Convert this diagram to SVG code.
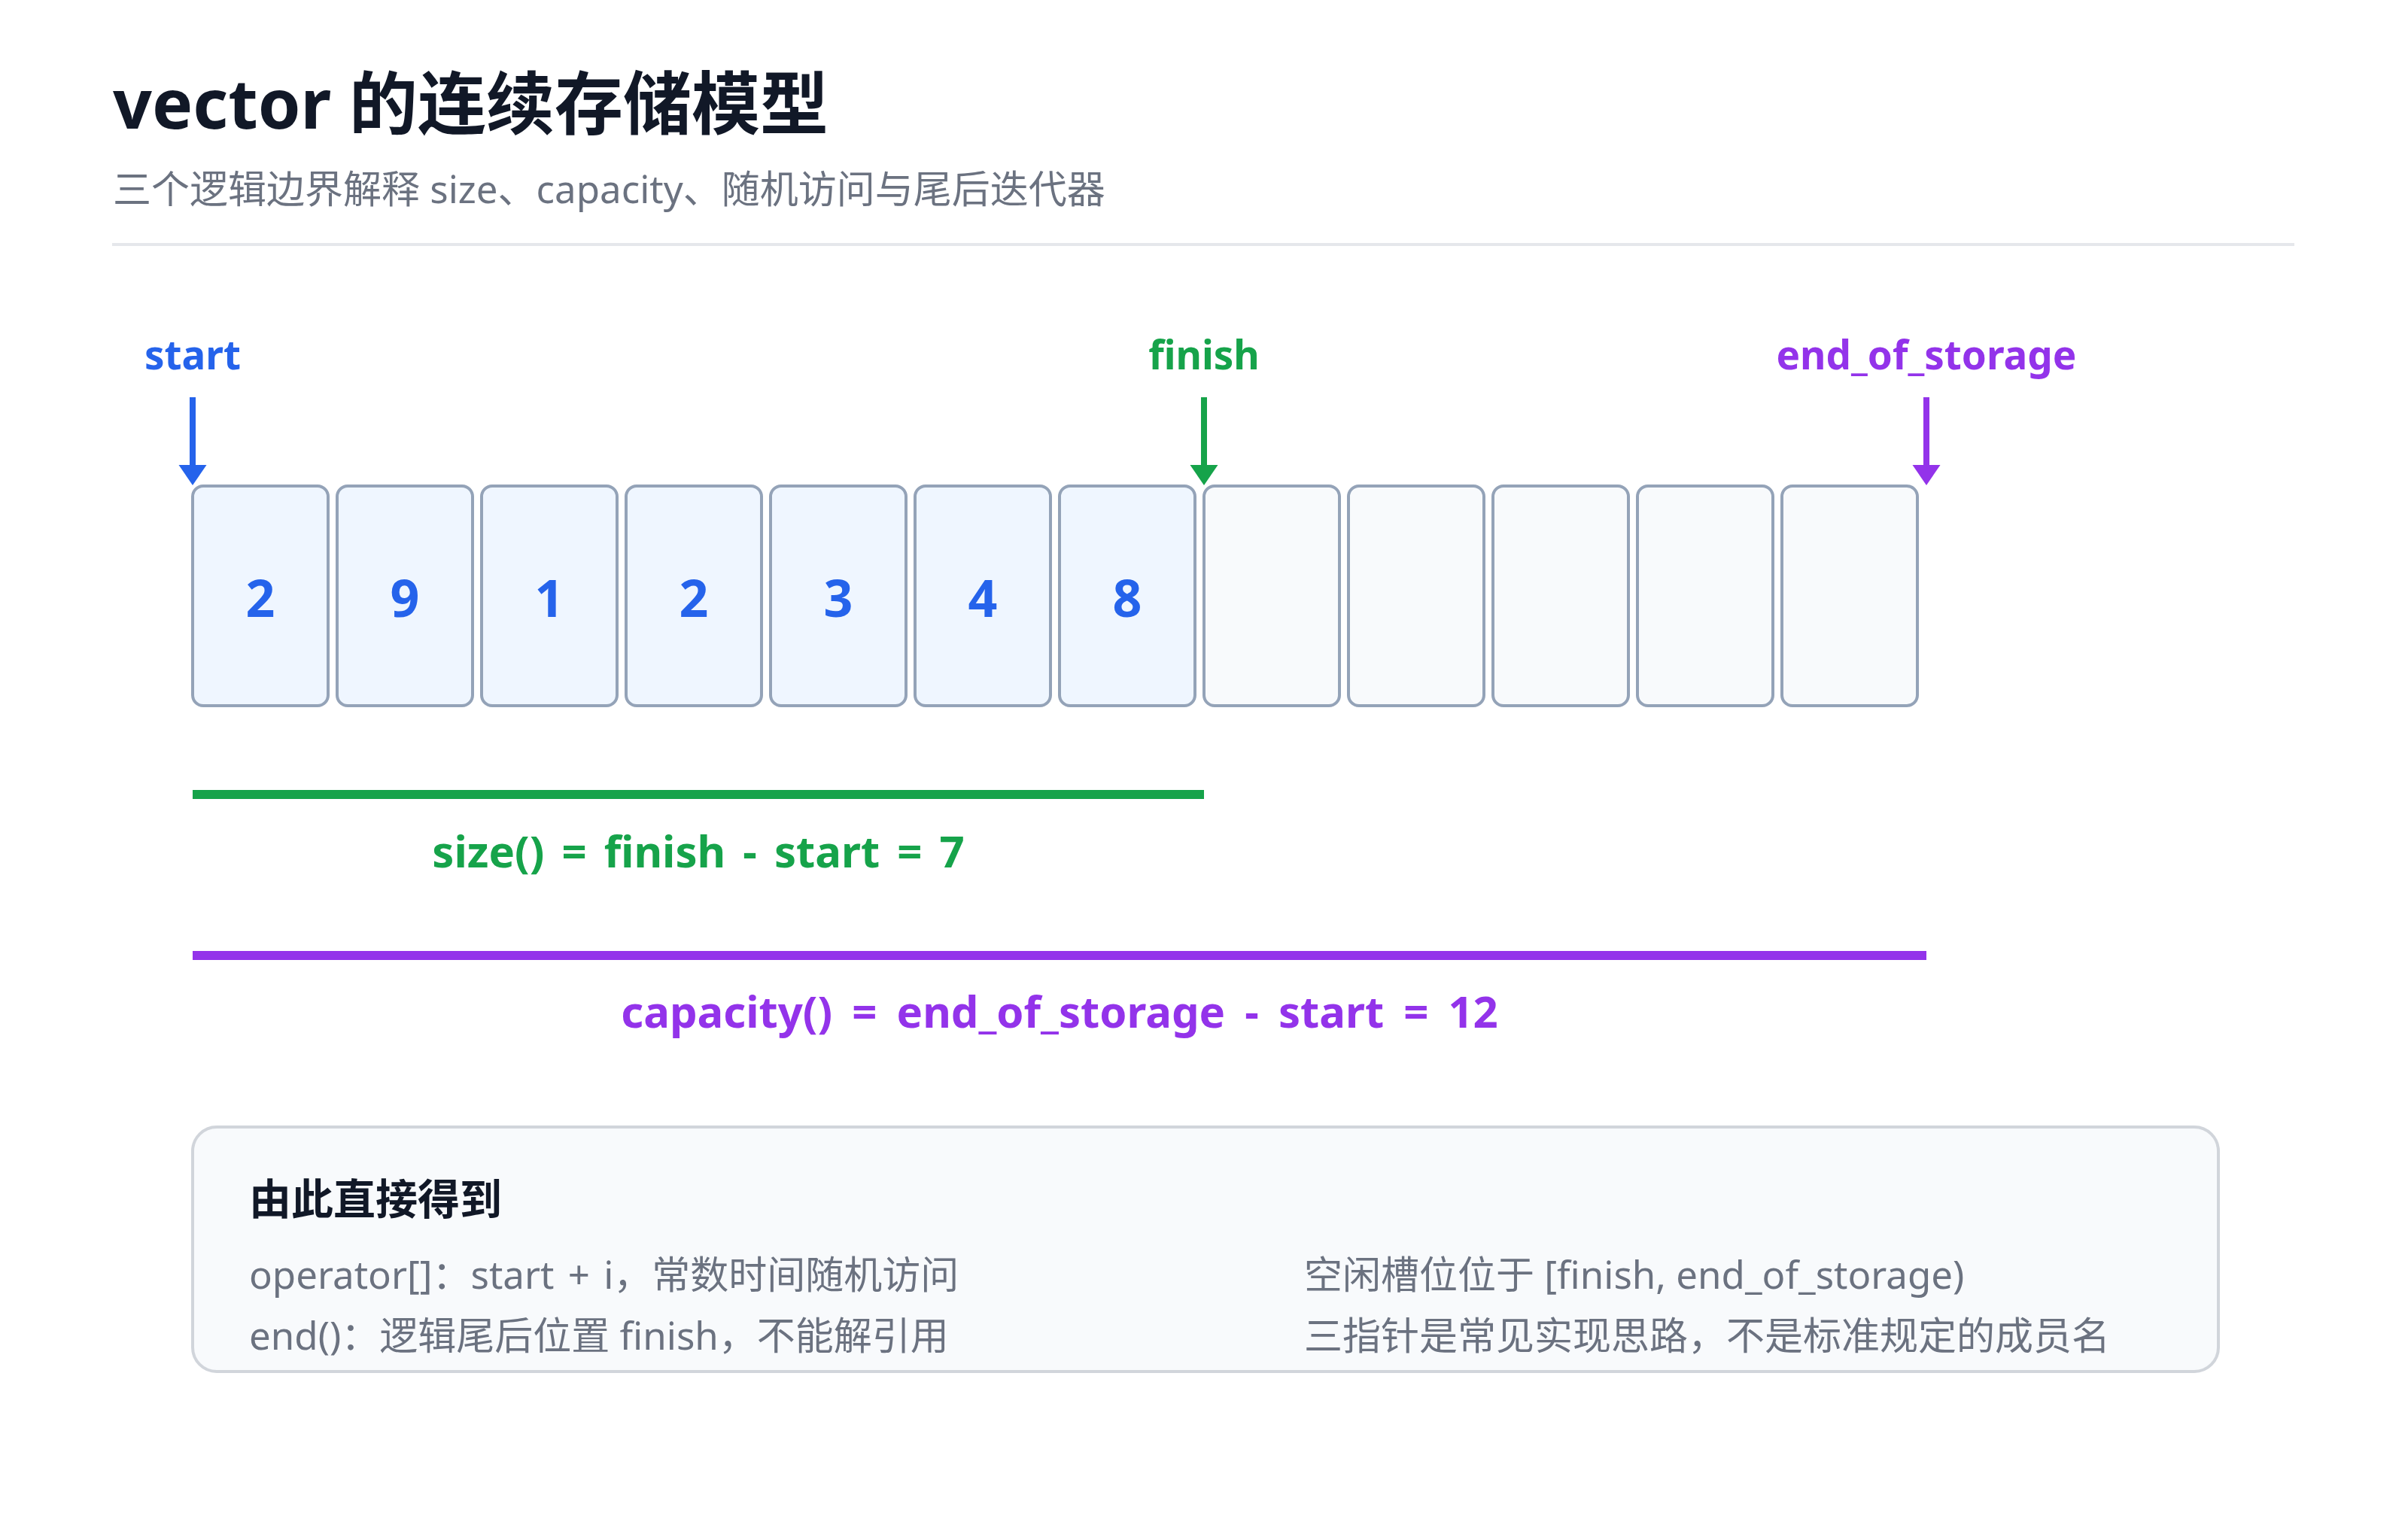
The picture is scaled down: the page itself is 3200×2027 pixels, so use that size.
<svg xmlns="http://www.w3.org/2000/svg" width="3200" height="2027" viewBox="0 0 3200 2027">
  <style>
    text { font-family: "Noto Sans", "Noto Sans CJK SC", sans-serif; }
    .title { font-size: 91px; font-weight: 700; fill: #111827; }
    .subtitle { font-size: 51px; fill: #6b7280; }
    .label { font-size: 53px; font-weight: 700; text-anchor: middle; }
    .cell-filled { fill: #eff6ff; stroke: #94a3b8; stroke-width: 4; }
    .cell-empty { fill: #f8fafc; stroke: #94a3b8; stroke-width: 4; }
    .digit { font-size: 68px; font-weight: 700; fill: #2563eb; text-anchor: middle; }
    .formula { font-size: 58px; font-weight: 700; text-anchor: middle; word-spacing: 8px; }
    .box { fill: #f8fafc; stroke: #d1d5db; stroke-width: 4; }
    .heading { font-size: 56px; font-weight: 700; fill: #111827; }
    .body { font-size: 51px; fill: #6b7280; }
    .blue { fill: #2563eb; }
    .green { fill: #16a34a; }
    .purple { fill: #9333ea; }
  </style>
  <rect width="3200" height="2027" fill="#ffffff"/>

  <g id="header">
    <text class="title" x="150" y="171">vector 的连续存储模型</text>
    <text class="subtitle" x="150" y="270">三个逻辑边界解释 size、capacity、随机访问与尾后迭代器</text>
    <line x1="149" y1="325" x2="3049" y2="325" stroke="#e5e7eb" stroke-width="4"/>
  </g>

  <g id="pointer-labels">
    <text class="label blue" x="256" y="491">start</text>
    <text class="label green" x="1600" y="491">finish</text>
    <text class="label purple" x="2560" y="491">end_of_storage</text>
  </g>

  <g id="cells">
    <g id="cell-0"><rect class="cell-filled" x="256" y="646" width="180" height="292" rx="14"/><text class="digit" x="346" y="820">2</text></g>
    <g id="cell-1"><rect class="cell-filled" x="448" y="646" width="180" height="292" rx="14"/><text class="digit" x="538" y="820">9</text></g>
    <g id="cell-2"><rect class="cell-filled" x="640" y="646" width="180" height="292" rx="14"/><text class="digit" x="730" y="820">1</text></g>
    <g id="cell-3"><rect class="cell-filled" x="832" y="646" width="180" height="292" rx="14"/><text class="digit" x="922" y="820">2</text></g>
    <g id="cell-4"><rect class="cell-filled" x="1024" y="646" width="180" height="292" rx="14"/><text class="digit" x="1114" y="820">3</text></g>
    <g id="cell-5"><rect class="cell-filled" x="1216" y="646" width="180" height="292" rx="14"/><text class="digit" x="1306" y="820">4</text></g>
    <g id="cell-6"><rect class="cell-filled" x="1408" y="646" width="180" height="292" rx="14"/><text class="digit" x="1498" y="820">8</text></g>
    <g id="cell-7"><rect class="cell-empty" x="1600" y="646" width="180" height="292" rx="14"/></g>
    <g id="cell-8"><rect class="cell-empty" x="1792" y="646" width="180" height="292" rx="14"/></g>
    <g id="cell-9"><rect class="cell-empty" x="1984" y="646" width="180" height="292" rx="14"/></g>
    <g id="cell-10"><rect class="cell-empty" x="2176" y="646" width="180" height="292" rx="14"/></g>
    <g id="cell-11"><rect class="cell-empty" x="2368" y="646" width="180" height="292" rx="14"/></g>
  </g>

  <g id="connectors">
    <line x1="256" y1="528" x2="256" y2="620" stroke="#2563eb" stroke-width="8"/>
    <polygon points="237.5,618 274.5,618 256,645" fill="#2563eb"/>
    <line x1="1600" y1="528" x2="1600" y2="620" stroke="#16a34a" stroke-width="8"/>
    <polygon points="1581.5,618 1618.5,618 1600,645" fill="#16a34a"/>
    <line x1="2560" y1="528" x2="2560" y2="620" stroke="#9333ea" stroke-width="8"/>
    <polygon points="2541.5,618 2578.5,618 2560,645" fill="#9333ea"/>
  </g>

  <g id="size-span">
    <line x1="256" y1="1056" x2="1600" y2="1056" stroke="#16a34a" stroke-width="12"/>
    <text class="formula green" x="928" y="1153">size() = finish - start = 7</text>
  </g>

  <g id="capacity-span">
    <line x1="256" y1="1270" x2="2560" y2="1270" stroke="#9333ea" stroke-width="12"/>
    <text class="formula purple" x="1408" y="1366" style="word-spacing: 11px">capacity() = end_of_storage - start = 12</text>
  </g>

  <g id="summary-box">
    <rect class="box" x="256" y="1498" width="2692" height="325" rx="32"/>
    <text class="heading" x="331" y="1614">由此直接得到</text>
    <text class="body" x="331" y="1713" style="word-spacing: 5px">operator[]：start + i，常数时间随机访问</text>
    <text class="body" x="331" y="1794">end()：逻辑尾后位置 finish，不能解引用</text>
    <text class="body" x="1733" y="1713">空闲槽位位于 [finish, end_of_storage)</text>
    <text class="body" x="1733" y="1794">三指针是常见实现思路，不是标准规定的成员名</text>
  </g>
</svg>
